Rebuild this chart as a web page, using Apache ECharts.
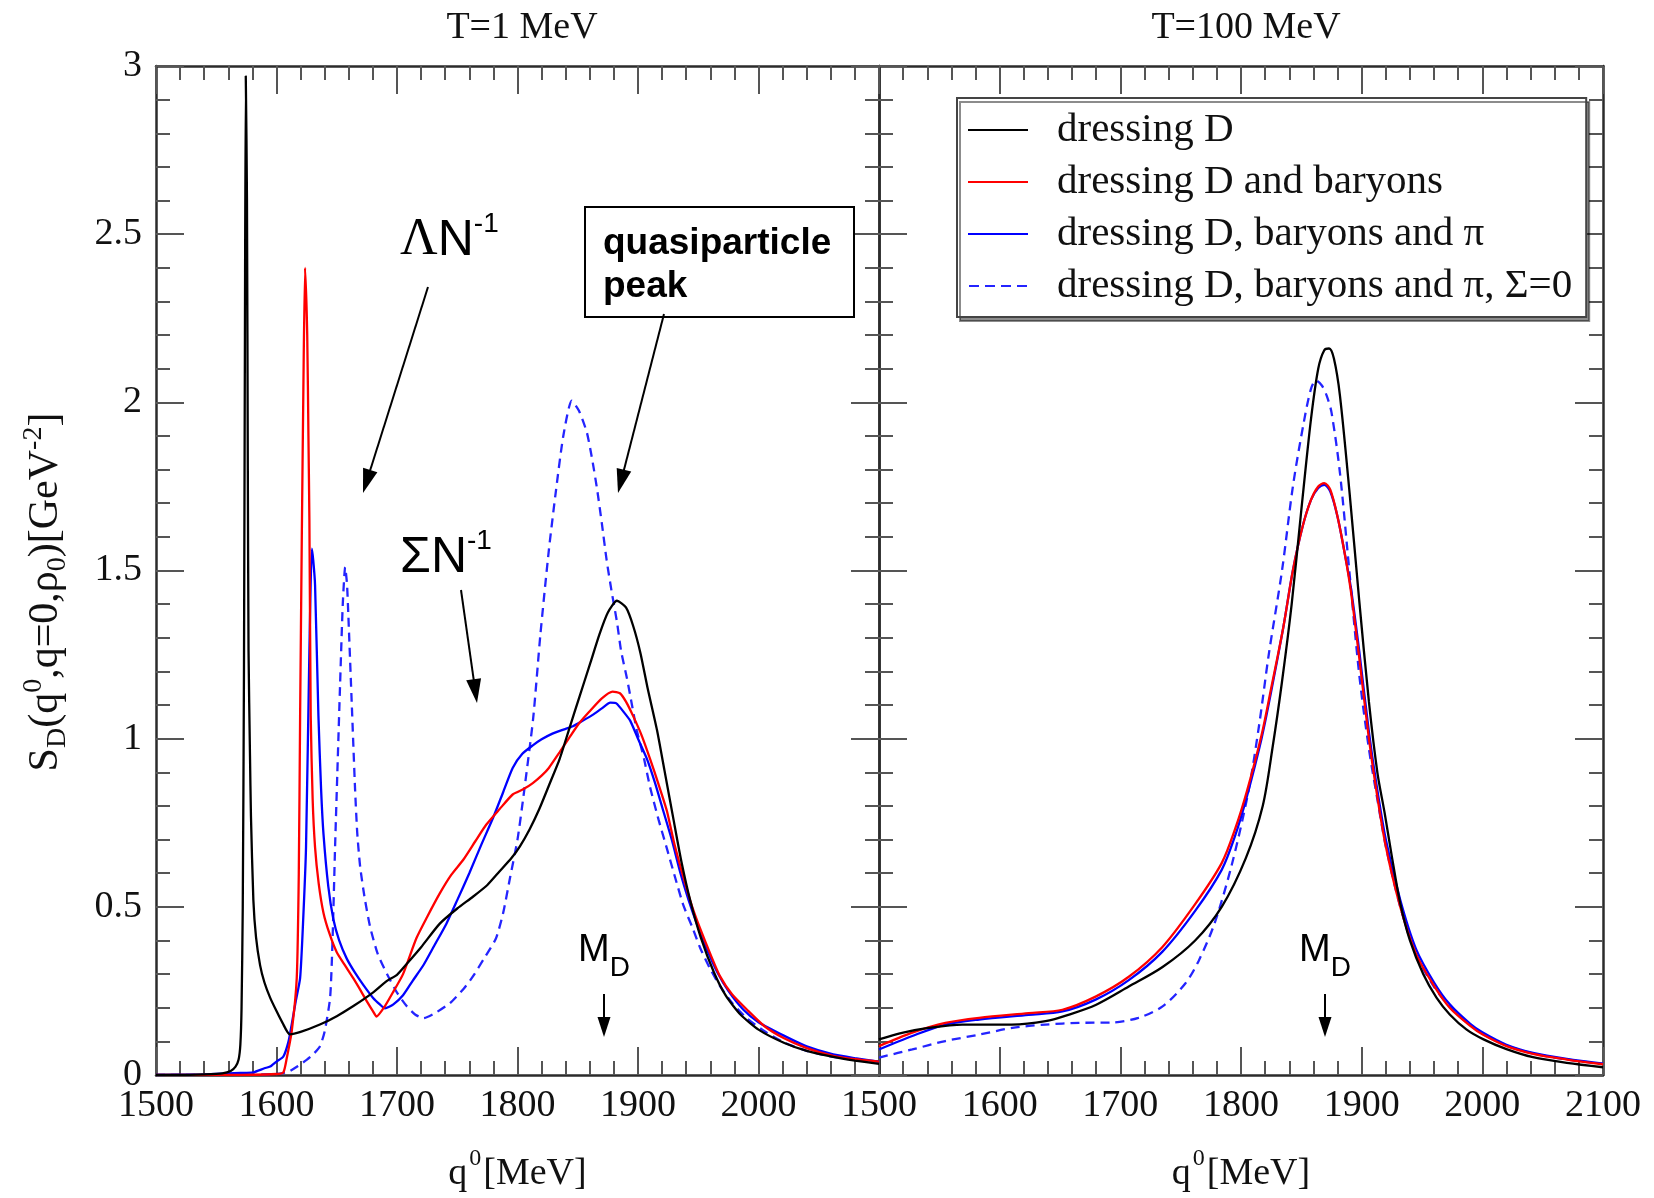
<!DOCTYPE html>
<html>
<head>
<meta charset="utf-8">
<script src="https://cdn.jsdelivr.net/npm/echarts@6/dist/echarts.min.js"></script>
<style>html,body{margin:0;padding:0;background:#fff}#c{width:1654px;height:1198px}</style>
</head>
<body>
<div id="c"></div>
<script>
// ---------- data (q0 [MeV], S_D [GeV^-2]) ----------
const seriesNames = ['dressing D', 'dressing D and baryons', 'dressing D, baryons and \u03c0', 'dressing D, baryons and \u03c0, \u03a3=0'];
const panelTitles = ['T=1 MeV', 'T=100 MeV'];
const yTickLabels = ['0', '0.5', '1', '1.5', '2', '2.5', '3'];

// T = 1 MeV
const t1_D = [[1500,0],[1520,0],[1540,0.002],[1555,0.005],[1562,0.012],[1566,0.025],[1568.5,0.045],[1570,0.09],[1571,0.2],[1572,0.5],[1573,1.2],[1573.8,2.2],[1574.5,2.97],[1575.5,2.6],[1576.2,1.8],[1576.8,1.26],[1578,0.95],[1578.8,0.77],[1580.8,0.52],[1583,0.41],[1586.4,0.326],[1590,0.275],[1594.7,0.23],[1600,0.19],[1605,0.155],[1611,0.121],[1620,0.128],[1636,0.15],[1650,0.175],[1663.8,0.205],[1680,0.245],[1691.7,0.28],[1700,0.298],[1708,0.33],[1720,0.38],[1735.5,0.45],[1750,0.495],[1763,0.53],[1775,0.565],[1785,0.605],[1795,0.645],[1802,0.68],[1810,0.73],[1818,0.79],[1826,0.86],[1835,0.94],[1843,1.03],[1851,1.12],[1860,1.22],[1868,1.31],[1875,1.375],[1882.5,1.41],[1890,1.39],[1896,1.335],[1902,1.255],[1908,1.15],[1915.8,1.025],[1922,0.905],[1929.6,0.757],[1936,0.635],[1943.4,0.518],[1952,0.41],[1962.8,0.307],[1973,0.235],[1985,0.18],[2000,0.135],[2021,0.096],[2040,0.072],[2062,0.054],[2080,0.043],[2100,0.033]];
const t1_DB = [[1500,0],[1560,0],[1600,0.003],[1605.7,0.008],[1608.5,0.05],[1612.7,0.132],[1616.8,0.288],[1618.5,0.6],[1619.6,1.067],[1621,1.6],[1622.3,2.04],[1623.7,2.40],[1625.5,2.2],[1626.5,1.9],[1627.3,1.65],[1628.4,1.067],[1630,0.82],[1632,0.677],[1635,0.57],[1639,0.482],[1644,0.42],[1650,0.365],[1657,0.325],[1663.8,0.287],[1670,0.25],[1675,0.219],[1680,0.19],[1683,0.174],[1690,0.205],[1697,0.248],[1705,0.3],[1716,0.406],[1725,0.47],[1735.5,0.54],[1745,0.595],[1755,0.64],[1765,0.695],[1774,0.744],[1785,0.79],[1796,0.834],[1805,0.85],[1812.7,0.868],[1820,0.89],[1826,0.913],[1835,0.96],[1843,1.003],[1851,1.045],[1859.5,1.08],[1870,1.12],[1879,1.14],[1885,1.135],[1890,1.11],[1896,1.067],[1903,1.01],[1910,0.94],[1917,0.865],[1924,0.785],[1930,0.69],[1937.7,0.588],[1945,0.5],[1951.7,0.434],[1960,0.36],[1968,0.294],[1978,0.24],[1990.5,0.194],[2005,0.145],[2020.8,0.11],[2040,0.08],[2062,0.057],[2080,0.047],[2100,0.04]];
const t1_DBpi = [[1500,0],[1540,0.002],[1570,0.006],[1580.7,0.008],[1590,0.02],[1594.7,0.025],[1600,0.04],[1605.7,0.055],[1610,0.1],[1612.7,0.152],[1616,0.22],[1619.6,0.288],[1622,0.45],[1624.5,0.677],[1627.3,1.262],[1629.3,1.565],[1630.5,1.53],[1632,1.457],[1634.8,1.067],[1637,0.85],[1639,0.716],[1643,0.56],[1647.2,0.463],[1652,0.4],[1658.3,0.346],[1665,0.305],[1672,0.268],[1680,0.23],[1686,0.209],[1690,0.198],[1697,0.21],[1705,0.237],[1713,0.28],[1722,0.327],[1731,0.385],[1741,0.45],[1750,0.52],[1760,0.6],[1770,0.685],[1780,0.767],[1788,0.84],[1796,0.913],[1804,0.955],[1812.7,0.98],[1820,0.998],[1829,1.015],[1838,1.027],[1846,1.037],[1854,1.053],[1862,1.07],[1870,1.09],[1877,1.107],[1882,1.105],[1888,1.08],[1893.6,1.053],[1900,1.0],[1907.4,0.94],[1914,0.87],[1921,0.785],[1928,0.7],[1935,0.603],[1942,0.52],[1949,0.448],[1957,0.375],[1965.6,0.307],[1975,0.25],[1987.5,0.194],[2000,0.157],[2021,0.117],[2040,0.085],[2062,0.061],[2080,0.05],[2100,0.04]];
const t1_DBpiS0 = [[1500,0],[1560,0],[1600,0.003],[1610,0.01],[1618,0.027],[1625,0.045],[1630,0.06],[1636,0.085],[1640,0.13],[1644.5,0.23],[1646.5,0.4],[1648.6,0.677],[1650.5,0.9],[1652.8,1.165],[1655,1.4],[1657,1.51],[1658.5,1.46],[1659.7,1.36],[1662.5,1.1],[1665.2,0.85],[1667,0.72],[1669.4,0.62],[1673,0.53],[1677.7,0.44],[1684,0.36],[1691.7,0.3],[1700,0.245],[1708,0.205],[1715,0.18],[1722,0.169],[1732,0.185],[1744,0.214],[1755,0.255],[1763,0.293],[1772,0.345],[1782,0.405],[1788,0.48],[1794,0.59],[1800,0.7],[1805,0.83],[1813,1.06],[1819,1.31],[1826,1.56],[1832,1.74],[1838,1.9],[1845,2.005],[1851,1.975],[1857.6,1.91],[1862,1.83],[1866,1.743],[1870,1.64],[1874,1.53],[1878,1.44],[1882.5,1.348],[1886,1.26],[1890.8,1.18],[1895,1.1],[1899,1.025],[1905,0.94],[1910,0.856],[1917,0.76],[1924,0.673],[1931,0.585],[1937.7,0.504],[1945,0.44],[1951.7,0.377],[1960,0.315],[1968,0.265],[1978,0.215],[1990.5,0.168],[2005,0.13],[2021,0.097],[2040,0.072],[2062,0.054],[2080,0.046],[2100,0.04]];

// T = 100 MeV
const t100_D = [[1500,0.106],[1520,0.126],[1541,0.14],[1569,0.15],[1590,0.15],[1610,0.15],[1638,0.16],[1657,0.179],[1680,0.209],[1707,0.263],[1735,0.321],[1762,0.40],[1784,0.5],[1804,0.645],[1818,0.8],[1826,0.97],[1834,1.17],[1842,1.4],[1850,1.68],[1858,1.95],[1864,2.1],[1869,2.155],[1873,2.16],[1877,2.13],[1882,2.02],[1890,1.73],[1898,1.41],[1906,1.11],[1913,0.9],[1919,0.78],[1925,0.65],[1932,0.51],[1940,0.4],[1951,0.3],[1962,0.23],[1973,0.18],[1987,0.135],[2001,0.106],[2020,0.077],[2042,0.053],[2070,0.036],[2100,0.023]];
const t100_DB = [[1500,0.086],[1527.6,0.126],[1555,0.155],[1583,0.17],[1624,0.184],[1652,0.194],[1679.5,0.233],[1707,0.292],[1734.7,0.38],[1762,0.508],[1784,0.63],[1795,0.73],[1805,0.845],[1817,1.01],[1825,1.15],[1835,1.33],[1843,1.5],[1851,1.63],[1858,1.71],[1864,1.75],[1869,1.76],[1874,1.74],[1880,1.66],[1886,1.55],[1891,1.44],[1898,1.24],[1906,1.0],[1912,0.85],[1920,0.68],[1932,0.5],[1945,0.36],[1960,0.265],[1973,0.2],[1990,0.146],[2000,0.121],[2020,0.086],[2042,0.063],[2070,0.046],[2100,0.032]];
const t100_DBpi = [[1500,0.076],[1527.6,0.116],[1555,0.15],[1583,0.165],[1624,0.179],[1652,0.189],[1679.5,0.224],[1707,0.282],[1734.7,0.366],[1762,0.488],[1784,0.61],[1795,0.71],[1805,0.83],[1817,1.0],[1825,1.14],[1835,1.33],[1843,1.5],[1851,1.63],[1858,1.71],[1864,1.745],[1869,1.755],[1874,1.735],[1880,1.66],[1886,1.55],[1891,1.45],[1898,1.26],[1906,1.02],[1912,0.87],[1920,0.7],[1932,0.52],[1945,0.375],[1960,0.275],[1973,0.21],[1990,0.152],[2000,0.127],[2020,0.09],[2042,0.066],[2070,0.048],[2100,0.034]];
const t100_DBpiS0 = [[1500,0.052],[1527.6,0.076],[1555,0.101],[1583,0.12],[1610.5,0.14],[1638,0.15],[1665.7,0.155],[1693,0.156],[1715,0.17],[1735,0.204],[1754,0.273],[1765,0.34],[1778,0.45],[1792,0.62],[1806,0.84],[1815,1.04],[1823,1.25],[1834,1.5],[1843,1.75],[1852,1.94],[1858,2.04],[1862,2.065],[1867,2.05],[1871,2.02],[1875,1.97],[1882,1.79],[1890,1.49],[1898,1.19],[1906,0.97],[1913,0.82],[1920,0.68],[1932,0.5],[1945,0.36],[1960,0.262],[1975,0.195],[1990,0.148],[2000,0.123],[2020,0.088],[2042,0.064],[2070,0.046],[2100,0.033]];

// ---------- chart ----------
const SERIF = '"Liberation Serif", "DejaVu Serif", serif';
const SANS = '"Liberation Sans", Arial, sans-serif';
const FRAME = '#2b2b2b';
const colors = ['#000000', '#ff0000', '#0000ff', '#2424ff'];
const grids = [
  {left: 156, top: 66, width: 723, height: 1020},
  {left: 879, top: 66, width: 724, height: 1020}
];

function xAx(g, pos, labels) {
  return {
    type: 'value', gridIndex: g, position: pos, min: 1500, max: 2100, interval: 100,
    axisLine: {show: true, onZero: false, lineStyle: {color: FRAME, width: 2.5}},
    axisTick: {show: true, inside: true, length: 28, lineStyle: {color: '#555', width: 2}},
    minorTick: {show: true, splitNumber: 5, length: 14, lineStyle: {color: '#555', width: 2}},
    splitLine: {show: false},
    axisLabel: {show: labels, margin: 12, fontFamily: SERIF, fontSize: 38, color: '#111',
      formatter: v => (g === 0 && v >= 2100) ? '' : String(v)},
    name: labels ? '{n|q}{s|0}{n|[MeV]}' : '',
    nameLocation: 'middle', nameGap: 72,
    nameTextStyle: {rich: {
      n: {fontFamily: SERIF, fontSize: 38, color: '#111', lineHeight: 46, verticalAlign: 'bottom'},
      s: {fontFamily: SERIF, fontSize: 24, color: '#111', verticalAlign: 'top', padding: [0, 2, 0, 2]}
    }}
  };
}
function yAx(g, pos, labels) {
  return {
    type: 'value', gridIndex: g, position: pos, min: 0, max: 3, interval: 0.5,
    axisLine: {show: true, onZero: false, lineStyle: {color: FRAME, width: 2.5}},
    axisTick: {show: true, inside: true, length: 28, lineStyle: {color: '#555', width: 2}},
    minorTick: {show: true, splitNumber: 5, length: 14, lineStyle: {color: '#555', width: 2}},
    splitLine: {show: false},
    axisLabel: {show: labels, margin: 14, fontFamily: SERIF, fontSize: 38, color: '#111',
      formatter: (v) => yTickLabels[Math.round(v / 0.5)]}
  };
}

const panels = [[t1_D, t1_DB, t1_DBpi, t1_DBpiS0], [t100_D, t100_DB, t100_DBpi, t100_DBpiS0]];
const series = [];
panels.forEach((sets, p) => {
  sets.forEach((d, i) => {
    series.push({
      type: 'line', name: seriesNames[i], data: d,
      xAxisIndex: p * 2, yAxisIndex: p * 2,
      symbol: 'none', showSymbol: false, clip: true,
      smooth: p === 1 ? 0.3 : 0.2,
      z: 10 - i,
      lineStyle: {color: colors[i], width: 2.3, type: i === 3 ? [9, 6] : 'solid'},
      itemStyle: {color: colors[i]}
    });
  });
});

function arrowEls(x1, y1, x2, y2, len, w) {
  const a = Math.atan2(y2 - y1, x2 - x1), c = Math.cos(a), s = Math.sin(a);
  const bx = x2 - len * c, by = y2 - len * s;
  return [
    {type: 'line', shape: {x1: x1, y1: y1, x2: bx + 2 * c, y2: by + 2 * s}, style: {stroke: '#000', lineWidth: 2}, z: 50},
    {type: 'polygon', shape: {points: [[x2, y2], [bx + w / 2 * s, by - w / 2 * c], [bx - w / 2 * s, by + w / 2 * c]]}, style: {fill: '#000'}, z: 50}
  ];
}

const graphics = [].concat(
  arrowEls(428, 287, 363, 493, 24, 15),
  arrowEls(664, 314, 618, 493, 24, 15),
  arrowEls(461, 590, 477, 703, 24, 15),
  arrowEls(604, 994, 604, 1037, 20, 13),
  arrowEls(1325, 994, 1325, 1037, 20, 13),
  [
    // y-axis title (rotated)
    {type: 'text', x: 46, y: 592, rotation: Math.PI / 2, z: 50, style: {
      text: '{n|S}{b|D}{n|(q}{s|0}{n|,q=0,\u03c1}{b|0}{n|)[GeV}{s|-2}{n|]}',
      align: 'center', verticalAlign: 'middle',
      rich: {
        n: {fontFamily: SERIF, fontSize: 42, fill: '#111', lineHeight: 52, verticalAlign: 'middle'},
        s: {fontFamily: SERIF, fontSize: 28, fill: '#111', verticalAlign: 'top'},
        b: {fontFamily: SERIF, fontSize: 28, fill: '#111', verticalAlign: 'bottom'}
      }}},
    {type: 'text', left: 400, top: 210, z: 50, style: {text: '{l|\u039b}{n|N}{s|-1}', rich: {
      l: {fontFamily: SERIF, fontSize: 52, fill: '#000', verticalAlign: 'bottom', lineHeight: 56},
      n: {fontFamily: SANS, fontSize: 50, fill: '#000', verticalAlign: 'bottom', lineHeight: 56},
      s: {fontFamily: SANS, fontSize: 28, fill: '#000', verticalAlign: 'top'}}}},
    {type: 'text', left: 400, top: 527, z: 50, style: {text: '{l|\u03a3}{n|N}{s|-1}', rich: {
      l: {fontFamily: SANS, fontSize: 50, fill: '#000', verticalAlign: 'bottom', lineHeight: 56},
      n: {fontFamily: SANS, fontSize: 50, fill: '#000', verticalAlign: 'bottom', lineHeight: 56},
      s: {fontFamily: SANS, fontSize: 28, fill: '#000', verticalAlign: 'top'}}}},
    {type: 'rect', shape: {x: 585, y: 207, width: 269, height: 110}, style: {fill: '#fff', stroke: '#000', lineWidth: 2}, z: 45},
    {type: 'text', left: 603, top: 222, z: 50, style: {text: 'quasiparticle\npeak', fontFamily: SANS, fontWeight: 'bold', fontSize: 37, lineHeight: 43, fill: '#000'}},
    {type: 'text', left: 578, top: 932, z: 50, style: {text: '{n|M}{b|D}', rich: {
      n: {fontFamily: SANS, fontSize: 38, fill: '#000', verticalAlign: 'top', lineHeight: 50},
      b: {fontFamily: SANS, fontSize: 28, fill: '#000', verticalAlign: 'bottom'}}}},
    {type: 'text', left: 1299, top: 932, z: 50, style: {text: '{n|M}{b|D}', rich: {
      n: {fontFamily: SANS, fontSize: 38, fill: '#000', verticalAlign: 'top', lineHeight: 50},
      b: {fontFamily: SANS, fontSize: 28, fill: '#000', verticalAlign: 'bottom'}}}}
  ]
);

const solidIcon = 'path://M0,0H60V2H0Z';
const dashIcon = 'path://M0,0H10V2H0Z M16,0H26V2H16Z M32,0H42V2H32Z M48,0H58V2H48Z';

const chart = echarts.init(document.getElementById('c'), null, {renderer: 'canvas'});
chart.setOption({
  backgroundColor: '#fff',
  animation: false,
  title: [
    {text: panelTitles[0], left: 517, top: 4, textAlign: 'center', textStyle: {fontFamily: SERIF, fontSize: 38, fontWeight: 'normal', color: '#111'}},
    {text: panelTitles[1], left: 1241, top: 4, textAlign: 'center', textStyle: {fontFamily: SERIF, fontSize: 38, fontWeight: 'normal', color: '#111'}}
  ],
  grid: grids,
  xAxis: [xAx(0, 'bottom', true), xAx(0, 'top', false), xAx(1, 'bottom', true), xAx(1, 'top', false)],
  yAxis: [yAx(0, 'left', true), yAx(0, 'right', false), yAx(1, 'left', false), yAx(1, 'right', false)],
  legend: {
    data: seriesNames.map((n, i) => ({name: n, icon: i === 3 ? dashIcon : solidIcon})),
    orient: 'vertical', left: 957, top: 98,
    backgroundColor: '#fff', borderColor: '#444', borderWidth: 2,
    shadowColor: 'rgba(0,0,0,0.45)', shadowOffsetX: 3, shadowOffsetY: 4, shadowBlur: 0,
    padding: [11, 14, 10, 11], itemGap: 10, itemWidth: 60, itemHeight: 2,
    itemStyle: {borderWidth: 0},
    textStyle: {fontFamily: SERIF, fontSize: 41, color: '#111', lineHeight: 42, padding: [0, 0, 0, 24]},
    selectedMode: false
  },
  series: series,
  graphic: graphics
});
</script>
</body>
</html>
